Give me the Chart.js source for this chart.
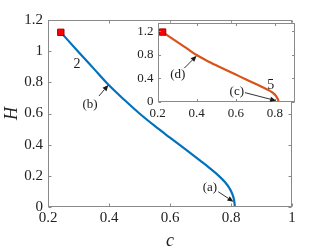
<!DOCTYPE html>
<html>
<head>
<meta charset="utf-8">
<script src="https://cdn.jsdelivr.net/npm/chart.js@4"></script>
<style>
  body { margin: 0; background: #fff; }
  #wrap { position: relative; width: 322px; height: 252px; }
  #mainChart { position: absolute; left: 0; top: 0; }
  #insetChart { position: absolute; left: 110px; top: 10px; }
</style>
</head>
<body>
<div id="wrap">
  <canvas id="mainChart" width="322" height="252"></canvas>
  <canvas id="insetChart" width="190" height="115"></canvas>
</div>
<script>
// main curve (branch 2)
const mainC = [0.242, 0.3, 0.35, 0.4, 0.45, 0.5, 0.55, 0.6, 0.65, 0.7, 0.73, 0.76, 0.78, 0.795, 0.805, 0.81, 0.812, 0.8125];
const mainH = [1.121, 0.995, 0.888, 0.781, 0.688, 0.6, 0.52, 0.445, 0.371, 0.296, 0.25, 0.2, 0.16, 0.12, 0.08, 0.045, 0.015, 0];
// inset curve (branch 5)
const insetC = [0.226, 0.3, 0.35, 0.4, 0.45, 0.5, 0.55, 0.6, 0.65, 0.7, 0.74, 0.77, 0.79, 0.805, 0.813, 0.817, 0.818];
const insetH = [1.19, 1.022, 0.91, 0.797, 0.705, 0.621, 0.541, 0.463, 0.385, 0.306, 0.243, 0.193, 0.15, 0.1, 0.055, 0.02, 0];

const mainXTicks = [0.2, 0.4, 0.6, 0.8, 1];
const mainYTicks = [0, 0.2, 0.4, 0.6, 0.8, 1, 1.2];
const insetXTicks = [0.2, 0.4, 0.6, 0.8];
const insetYTicks = [0, 0.4, 0.8, 1.2];

// labels + arrows, in data coords
const mainNotes = [
  { text: '2', at: [0.295, 0.918], size: 14 },
  { text: '(b)', at: [0.338, 0.655], size: 13, from: [0.367, 0.712], to: [0.398, 0.783] },
  { text: '(a)', at: [0.731, 0.126], size: 13, from: [0.758, 0.098], to: [0.808, 0.034] }
];
const insetNotes = [
  { text: '5', at: [0.779, 0.287], size: 14 },
  { text: '(d)', at: [0.304, 0.458], size: 13, from: [0.337, 0.573], to: [0.4, 0.785] },
  { text: '(c)', at: [0.605, 0.172], size: 13, from: [0.647, 0.155], to: [0.806, 0.017] }
];

const serif = '"Liberation Serif", "DejaVu Serif", serif';
const fmt = v => String(+Number(v).toFixed(1));

const boxTicks = {
  id: 'boxTicks',
  beforeDraw(chart, args, opts) {
    if (!opts.fill) return;
    const a = chart.chartArea, ctx = chart.ctx;
    ctx.save();
    ctx.fillStyle = opts.fill;
    ctx.fillRect(a.left, a.top, a.width, a.height);
    ctx.restore();
  },
  afterDraw(chart, args, opts) {
    const { ctx, chartArea: a, scales: { x, y } } = chart;
    const L = Math.round(a.left) + 0.5, R = Math.round(a.right) - 0.5;
    const T = Math.round(a.top) + 0.5, B = Math.round(a.bottom) - 0.5;
    const len = opts.tickLen;
    ctx.save();
    ctx.strokeStyle = opts.color;
    ctx.lineWidth = 1;
    ctx.strokeRect(L, T, R - L, B - T);
    ctx.beginPath();
    x.ticks.forEach(t => {
      const px = Math.round(x.getPixelForValue(t.value)) + 0.5;
      ctx.moveTo(px, B); ctx.lineTo(px, B - len);
      ctx.moveTo(px, T); ctx.lineTo(px, T + len);
    });
    y.ticks.forEach(t => {
      const py = Math.round(y.getPixelForValue(t.value)) + 0.5;
      ctx.moveTo(L, py); ctx.lineTo(L + len, py);
      ctx.moveTo(R, py); ctx.lineTo(R - len, py);
    });
    ctx.stroke();

    // annotations
    ctx.fillStyle = '#1a1a1a';
    ctx.strokeStyle = '#1a1a1a';
    ctx.textAlign = 'center';
    ctx.textBaseline = 'middle';
    (opts.notes || []).forEach(n => {
      ctx.font = n.size + 'px ' + serif;
      ctx.fillText(n.text, x.getPixelForValue(n.at[0]), y.getPixelForValue(n.at[1]));
      if (!n.from) return;
      const x0 = x.getPixelForValue(n.from[0]), y0 = y.getPixelForValue(n.from[1]);
      const x1 = x.getPixelForValue(n.to[0]), y1 = y.getPixelForValue(n.to[1]);
      const ang = Math.atan2(y1 - y0, x1 - x0);
      const hl = 6, hw = 2.6;
      const bx = x1 - hl * Math.cos(ang), by = y1 - hl * Math.sin(ang);
      ctx.lineWidth = 0.9;
      ctx.beginPath();
      ctx.moveTo(x0, y0); ctx.lineTo(bx, by);
      ctx.stroke();
      ctx.beginPath();
      ctx.moveTo(x1, y1);
      ctx.lineTo(bx + hw * Math.sin(ang), by - hw * Math.cos(ang));
      ctx.lineTo(bx - hw * Math.sin(ang), by + hw * Math.cos(ang));
      ctx.closePath();
      ctx.fill();
    });
    ctx.restore();
  }
};

function toPts(cs, hs) { return cs.map((c, i) => ({ x: c, y: hs[i] })); }

function makeScales(o) {
  return {
    x: {
      type: 'linear', min: o.xMin, max: o.xMax,
      afterBuildTicks: s => { s.ticks = o.xTicks.map(v => ({ value: v })); },
      afterFit: s => { s.height = o.xH; },
      grid: { display: false, drawTicks: false }, border: { display: false },
      ticks: { callback: fmt, color: '#222', padding: o.xPad, maxRotation: 0,
               font: { family: serif, size: o.fs } },
      title: o.xTitle ? { display: true, text: 'c', color: '#222', padding: 0,
               font: { family: serif, size: 18, style: 'italic' } } : { display: false }
    },
    y: {
      type: 'linear', min: o.yMin, max: o.yMax,
      afterBuildTicks: s => { s.ticks = o.yTicks.map(v => ({ value: v })); },
      afterFit: s => { s.width = o.yW; },
      grid: { display: false, drawTicks: false }, border: { display: false },
      ticks: { callback: fmt, color: '#222', padding: o.yPad,
               font: { family: serif, size: o.fs } },
      title: o.yTitle ? { display: true, text: 'H', color: '#222', padding: { top: 1, bottom: 0 },
               font: { family: serif, size: 18, style: 'italic' } } : { display: false }
    }
  };
}

function curveSets(cs, hs, color) {
  return [
    { data: [{ x: cs[0], y: hs[0] }], pointStyle: 'rect', pointRadius: 4.5,
      backgroundColor: '#ff0000', borderColor: '#a00000', borderWidth: 1, showLine: false },
    { data: toPts(cs, hs), borderColor: color, borderWidth: 2.2, pointRadius: 0,
      showLine: true, cubicInterpolationMode: 'monotone', fill: false }
  ];
}

new Chart(document.getElementById('mainChart'), {
  type: 'scatter',
  data: { datasets: curveSets(mainC, mainH, '#0072BD') },
  options: {
    responsive: false, animation: false, events: [],
    layout: { padding: { top: 20, right: 30, left: 0, bottom: 0 } },
    scales: makeScales({ xMin: 0.2, xMax: 1, yMin: 0, yMax: 1.2, xTicks: mainXTicks, yTicks: mainYTicks,
                         xH: 45, yW: 48, fs: 15, xPad: 2.5, yPad: 5, xTitle: true, yTitle: true }),
    plugins: {
      legend: { display: false }, tooltip: { enabled: false },
      boxTicks: { color: '#8a8a8a', tickLen: 3, notes: mainNotes }
    }
  },
  plugins: [boxTicks]
});

new Chart(document.getElementById('insetChart'), {
  type: 'scatter',
  data: { datasets: curveSets(insetC, insetH, '#D95319') },
  options: {
    responsive: false, animation: false, events: [],
    layout: { padding: { top: 12.7, right: 2.7, left: 0, bottom: 0 } },
    scales: makeScales({ xMin: 0.2, xMax: 0.9, yMin: 0, yMax: 1.35, xTicks: insetXTicks, yTicks: insetYTicks,
                         xH: 23.3, yW: 47.5, fs: 13, xPad: 4.5, yPad: 4, xTitle: false, yTitle: false }),
    plugins: {
      legend: { display: false }, tooltip: { enabled: false },
      boxTicks: { color: '#8a8a8a', tickLen: 2.5, notes: insetNotes, fill: '#ffffff' }
    }
  },
  plugins: [boxTicks]
});
</script>
</body>
</html>
